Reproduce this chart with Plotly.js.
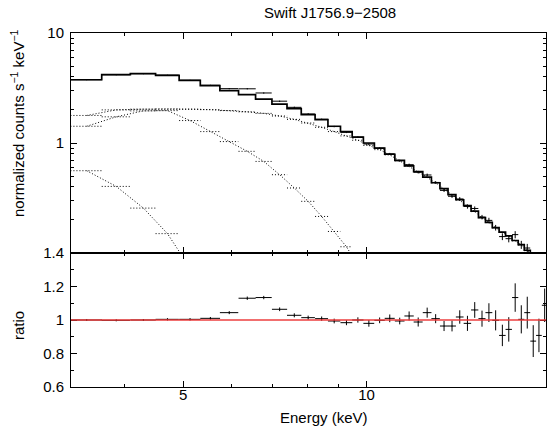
<!DOCTYPE html>
<html><head><meta charset="utf-8">
<script src="https://cdn.plot.ly/plotly-3.0.1.min.js"></script>
<style>html,body{margin:0;padding:0;background:#fff}#chart{width:547px;height:432px}</style>
</head><body><div id="chart"></div>
<script>
// Bin centres (keV)
const energy = [3.47, 3.88, 4.30, 4.71, 5.13, 5.54, 5.95, 6.37, 6.78, 7.20,
  7.61, 8.02, 8.44, 8.85, 9.27, 9.68, 10.09, 10.51, 10.92, 11.34,
  11.75, 12.16, 12.58, 12.99, 13.41, 13.82, 14.23, 14.65, 15.06, 15.48,
  15.89, 16.30, 16.72, 17.13, 17.55, 17.96, 18.37, 18.79, 19.20, 19.62];
const binHalfWidth = 0.207;

// Total model (normalized counts s^-1 keV^-1)
const modelTotal = [3.76, 4.18, 4.27, 4.12, 3.71, 3.32, 2.99, 2.75, 2.51, 2.26,
  2.05, 1.81, 1.63, 1.42, 1.27, 1.13, 1.00, 0.90, 0.79, 0.695,
  0.62, 0.55, 0.49, 0.435, 0.385, 0.34, 0.305, 0.27, 0.24, 0.21,
  0.19, 0.17, 0.155, 0.143, 0.13, 0.119, 0.106, 0.097, 0.089, 0.081];

// Observed data
const dataCounts = [3.76, 4.17, 4.27, 4.14, 3.72, 3.35, 3.12, 3.11, 2.85, 2.40,
  2.11, 1.835, 1.643, 1.411, 1.250, 1.13, 0.98, 0.898, 0.798, 0.691,
  0.635, 0.543, 0.512, 0.438, 0.371, 0.328, 0.310, 0.265, 0.254, 0.212,
  0.198, 0.170, 0.141, 0.135, 0.147, 0.119, 0.111, 0.085, 0.081, 0.088];
const dataCountsErr = [0.023, 0.025, 0.026, 0.029, 0.026, 0.027, 0.027, 0.028, 0.025, 0.025,
  0.025, 0.022, 0.021, 0.020, 0.019, 0.018, 0.017, 0.016, 0.015, 0.014,
  0.014, 0.015, 0.015, 0.012, 0.012, 0.011, 0.012, 0.012, 0.011, 0.010,
  0.011, 0.010, 0.010, 0.010, 0.011, 0.010, 0.010, 0.009, 0.009, 0.008];

// Data / model ratio
const ratio = [1.0, 0.998, 1.0, 1.004, 1.004, 1.01, 1.044, 1.13, 1.134, 1.064,
  1.028, 1.014, 1.008, 0.994, 0.984, 1.0, 0.98, 0.998, 1.01, 0.994,
  1.024, 0.988, 1.044, 1.008, 0.964, 0.964, 1.018, 0.98, 1.06, 1.008,
  1.044, 0.998, 0.908, 0.944, 1.134, 1.004, 1.044, 0.874, 0.908, 1.088];
const ratioErr = [0.006, 0.006, 0.006, 0.007, 0.007, 0.008, 0.009, 0.01, 0.01, 0.011,
  0.012, 0.012, 0.013, 0.014, 0.015, 0.016, 0.02, 0.017, 0.023, 0.02,
  0.027, 0.027, 0.03, 0.027, 0.03, 0.032, 0.04, 0.045, 0.047, 0.048,
  0.056, 0.06, 0.064, 0.073, 0.085, 0.084, 0.095, 0.095, 0.1, 0.1];

// Model components
const compFlat = [1.78, 2.0, 2.03, 2.04, 2.03, 2.01, 1.97, 1.92, 1.86, 1.76,
  1.64, 1.52, 1.39, 1.27, 1.16, 1.06, 0.95, 0.87, 0.78, 0.69,
  0.615, 0.547, 0.487, 0.433, 0.383, 0.338, 0.303, 0.268, 0.238, 0.209,
  0.189, 0.169, 0.154, 0.142, 0.129, 0.118, 0.105, 0.096, 0.088, 0.08];
const compMid = [1.42, 1.73, 1.96, 1.97, 1.6, 1.27, 1.03, 0.84, 0.68, 0.515,
  0.39, 0.295, 0.215, 0.157, 0.114, 0.077, 0.05];
const compSoft = [0.56, 0.403, 0.256, 0.15, 0.073, 0.035];

const xTickVals = [5, 10];
const xTickText = ['5', '10'];
const xMinorVals = [4, 6, 7, 8, 9];
const yTopTickVals = [1, 10];
const yTopTickText = ['1', '10'];
const yTopMinorVals = [0.2,0.3,0.4,0.5,0.6,0.7,0.8,0.9,2,3,4,5,6,7,8,9];
const yRatTickVals = [0.6, 0.8, 1, 1.2, 1.4];
const yRatTickText = ['0.6', '0.8', '1', '1.2', '1.4'];
const yRatMinorVals = [0.7, 0.9, 1.1, 1.3];

const DOT = '1px,2px';
function stepTrace(xc, v, style) {
  const n = v.length;
  const x = xc.slice(0, n).map(c => c - binHalfWidth).concat([xc[n-1] + binHalfWidth]);
  const y = v.concat([v[n-1]]);
  return {x, y, type:'scatter', mode:'lines', line:Object.assign({shape:'hv'}, style),
    xaxis:'x', yaxis:'y', hoverinfo:'skip', showlegend:false};
}
function segTrace(xc, v, style) {
  const x = [], y = [];
  v.forEach((val, i) => { x.push(xc[i]-binHalfWidth, xc[i]+binHalfWidth, null); y.push(val, val, null); });
  return {x, y, type:'scatter', mode:'lines', line:style, xaxis:'x', yaxis:'y',
    hoverinfo:'skip', showlegend:false, connectgaps:false};
}
function centreTrace(xc, v, style) {
  return {x: xc.slice(0, v.length), y: v, type:'scatter', mode:'lines', line:style,
    xaxis:'x', yaxis:'y', hoverinfo:'skip', showlegend:false};
}
const dotStyle = {color:'#000', width:1, dash:DOT};
const errStyle = {color:'#000', thickness:1, width:0};

const traces = [];
[compFlat, compMid, compSoft].forEach(c => {
  traces.push(segTrace(energy, c, dotStyle));
  traces.push(centreTrace(energy, c, dotStyle));
});
traces.push(stepTrace(energy, modelTotal, {color:'#000', width:1.7}));
traces.push({x: energy, y: dataCounts, type:'scatter', mode:'markers',
  marker:{size:1, color:'#000'}, xaxis:'x', yaxis:'y', showlegend:false,
  error_x:Object.assign({type:'constant', value:binHalfWidth}, errStyle),
  error_y:Object.assign({type:'data', array:dataCountsErr}, errStyle)});
traces.push({x: energy, y: ratio, type:'scatter', mode:'markers',
  marker:{size:1, color:'#000'}, xaxis:'x2', yaxis:'y2', showlegend:false,
  error_x:Object.assign({type:'constant', value:binHalfWidth}, errStyle),
  error_y:Object.assign({type:'data', array:ratioErr}, errStyle)});

const FONT = 'Liberation Sans, Arial, Helvetica, sans-serif';
const xr = [Math.log10(3.27), Math.log10(19.72)];
const axBase = {showline:true, linecolor:'#000', linewidth:1, mirror:'ticks',
  ticks:'inside', ticklen:6, tickwidth:1, tickcolor:'#000', showgrid:false,
  zeroline:false, tickfont:{family:FONT, size:15, color:'#000'}, ticklabelstandoff:3};
const split = 0.3785;
const layout = {
  width:547, height:432, margin:{l:71, r:1, t:33, b:45},
  paper_bgcolor:'#fff', plot_bgcolor:'#fff', showlegend:false,
  font:{family:FONT, size:15, color:'#000'},
  xaxis:Object.assign({}, axBase, {type:'log', range:xr, anchor:'y', showticklabels:false,
    tickmode:'array', tickvals:xTickVals, ticktext:xTickText,
    minor:{tickmode:'array', tickvals:xMinorVals, ticks:'inside', ticklen:3, tickcolor:'#000'}}),
  xaxis2:Object.assign({}, axBase, {type:'log', range:xr, anchor:'y2', ticklabelstandoff:-6,
    tickmode:'array', tickvals:xTickVals, ticktext:xTickText,
    minor:{tickmode:'array', tickvals:xMinorVals, ticks:'inside', ticklen:3, tickcolor:'#000'}}),
  yaxis:Object.assign({}, axBase, {type:'log', range:[-1, 1], domain:[split, 1], anchor:'x',
    tickmode:'array', tickvals:yTopTickVals, ticktext:yTopTickText,
    minor:{tickmode:'array', tickvals:yTopMinorVals, ticks:'inside', ticklen:3, tickcolor:'#000'}}),
  yaxis2:Object.assign({}, axBase, {range:[0.6, 1.4], domain:[0, split], anchor:'x2',
    tickmode:'array', tickvals:yRatTickVals, ticktext:yRatTickText,
    minor:{tickmode:'array', tickvals:yRatMinorVals, ticks:'inside', ticklen:3, tickcolor:'#000'}}),
  shapes:[{type:'line', xref:'x2 domain', x0:0, x1:1, yref:'y2', y0:1, y1:1,
    line:{color:'rgba(235,55,55,0.72)', width:2}, layer:'above'}],
  annotations:[
    {text:'Swift J1756.9\u22122508', xref:'paper', yref:'paper', x:0.545, y:1.059,
     xanchor:'center', yanchor:'middle', showarrow:false, font:{family:FONT, size:15, color:'#000'}},
    {text:'normalized counts s<sup>\u22121</sup> keV<sup>\u22121</sup>', xref:'paper', yref:'paper',
     x:-0.1116, y:0.7458, textangle:-90, xanchor:'center', yanchor:'middle', showarrow:false,
     font:{family:FONT, size:15, color:'#000'}},
    {text:'ratio', xref:'paper', yref:'paper', x:-0.1116, y:0.175, textangle:-90,
     xanchor:'center', yanchor:'middle', showarrow:false, font:{family:FONT, size:15, color:'#000'}},
    {text:'Energy (keV)', xref:'paper', yref:'paper', x:0.5326, y:-0.085,
     xanchor:'center', yanchor:'middle', showarrow:false, font:{family:FONT, size:15, color:'#000'}}
  ]
};
Plotly.newPlot('chart', traces, layout, {staticPlot:true, displayModeBar:false});
</script>
</body></html>
